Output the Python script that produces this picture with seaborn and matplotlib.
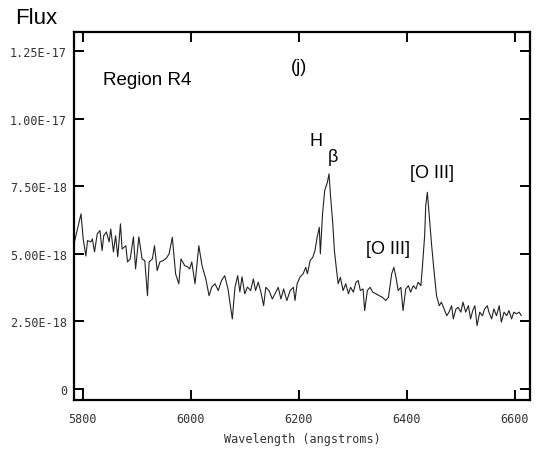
import numpy as np
import pandas as pd
import matplotlib
matplotlib.use("Agg")
import matplotlib.pyplot as plt
import seaborn as sns

# ---- data ----
wavelength = [5784, 5797, 5801, 5806, 5809, 5815, 5818, 5822, 5827, 5832, 5836, 5839,
              5844, 5849, 5852, 5857, 5861, 5865, 5870, 5873, 5880, 5883, 5888, 5894,
              5898, 5904, 5910, 5915, 5920, 5923, 5929, 5933, 5938, 5943, 5949, 5955,
              5960, 5966, 5972, 5978, 5982, 5989, 5994, 5998, 6002, 6008, 6015, 6021,
              6028, 6034, 6039, 6045, 6051, 6057, 6063, 6069, 6077, 6082, 6087, 6091,
              6095, 6100, 6105, 6111, 6116, 6120, 6125, 6130, 6135, 6139, 6145, 6151,
              6156, 6162, 6167, 6172, 6178, 6184, 6190, 6193, 6197, 6202, 6208, 6213,
              6216, 6221, 6226, 6230, 6234, 6238, 6240, 6244, 6248, 6253, 6256, 6259,
              6263, 6266, 6270, 6273, 6277, 6282, 6287, 6292, 6296, 6301, 6306, 6310,
              6314, 6319, 6322, 6327, 6332, 6337, 6343, 6349, 6355, 6361, 6366, 6372,
              6376, 6380, 6384, 6389, 6393, 6398, 6403, 6407, 6412, 6417, 6421, 6426,
              6429, 6433, 6435, 6438, 6441, 6446, 6450, 6455, 6460, 6464, 6469, 6474,
              6478, 6483, 6486, 6491, 6495, 6500, 6504, 6509, 6514, 6518, 6522, 6526,
              6530, 6535, 6540, 6544, 6549, 6552, 6557, 6561, 6566, 6571, 6575, 6580,
              6585, 6589, 6594, 6598, 6603, 6608, 6612]
flux_e18 = [5.37, 6.48, 5.55, 4.92, 5.49, 5.44, 5.55, 5.07, 5.74, 5.86, 5.12, 5.67,
            5.81, 5.44, 5.92, 5.07, 5.67, 4.89, 6.11, 5.18, 5.30, 4.70, 4.81, 5.63,
            4.44, 5.63, 4.81, 4.75, 3.45, 4.70, 4.81, 5.30, 4.38, 4.70, 4.75, 4.84,
            5.00, 5.61, 4.26, 3.89, 4.81, 4.56, 4.52, 4.44, 4.70, 3.89, 5.30, 4.56,
            4.07, 3.45, 3.77, 3.89, 3.64, 4.01, 4.19, 3.70, 2.59, 3.77, 4.19, 3.59,
            4.15, 3.52, 3.77, 3.64, 4.07, 3.64, 3.95, 3.58, 3.08, 3.76, 3.64, 3.33,
            3.52, 3.76, 3.33, 3.70, 3.27, 3.64, 3.76, 3.27, 3.89, 4.13, 4.26, 4.50,
            4.26, 4.75, 4.87, 5.12, 5.61, 5.98, 5.00, 6.48, 7.34, 7.65, 7.96, 7.09,
            6.11, 5.12, 4.38, 3.89, 4.13, 3.64, 3.89, 3.52, 3.76, 3.58, 3.95, 4.01,
            3.64, 3.70, 2.90, 3.64, 3.76, 3.58, 3.52, 3.45, 3.39, 3.27, 3.39, 4.26,
            4.50, 4.13, 3.64, 3.76, 2.90, 3.70, 3.82, 3.58, 3.82, 3.70, 3.95, 3.82,
            4.56, 5.67, 6.78, 7.28, 6.54, 5.30, 4.44, 3.45, 3.08, 3.21, 2.96, 2.71,
            2.84, 3.08, 2.59, 2.96, 3.02, 2.84, 3.21, 2.84, 3.08, 2.59, 2.90, 3.08,
            2.34, 2.84, 2.71, 2.96, 3.08, 2.84, 2.59, 2.96, 2.71, 3.08, 2.47, 2.84,
            2.71, 2.90, 2.59, 2.84, 2.78, 2.84, 2.71]

x_ticks = [5800, 6000, 6200, 6400, 6600]
x_tick_labels = ["5800", "6000", "6200", "6400", "6600"]
y_ticks = [0, 2.5e-18, 5.0e-18, 7.5e-18, 1.0e-17, 1.25e-17]
y_tick_labels = ["0", "2.50E-18", "5.00E-18", "7.50E-18", "1.00E-17", "1.25E-17"]

df = pd.DataFrame({"wavelength": wavelength,
                   "flux": np.array(flux_e18) * 1e-18})

sns.set_theme(style="white")
plt.rcParams["font.family"] = ["Liberation Sans", "DejaVu Sans"]

fig = plt.figure(figsize=(5.38, 4.52), dpi=100)
ax = fig.add_axes([74 / 538, 1 - 400.7 / 452, (530 - 74) / 538, (400.7 - 33.3) / 452])

sns.lineplot(data=df, x="wavelength", y="flux", ax=ax, color="#222222",
             linewidth=0.8, estimator=None, sort=False)

ax.set_xlim(5784, 6628)
ax.set_ylim(-0.40e-18, 13.2e-18)

for s in ax.spines.values():
    s.set_visible(True)
    s.set_color("black")
    s.set_linewidth(1.6)

mono = "DejaVu Sans Mono"
ax.set_xticks(x_ticks)
ax.set_xticklabels(x_tick_labels, fontfamily=mono, fontsize=8.5, color="#333333")
ax.set_yticks(y_ticks)
ax.set_yticklabels(y_tick_labels, fontfamily=mono, fontsize=8.5, color="#333333")
ax.tick_params(axis="both", which="major", direction="in", length=7.5, width=1.4,
               top=True, right=True, bottom=True, left=True, color="black")
ax.tick_params(axis="x", pad=9)
ax.tick_params(axis="y", pad=5)

ax.set_xlabel("Wavelength (angstroms)", fontfamily=mono, fontsize=8.5,
              color="#333333", labelpad=5)
ax.set_ylabel("")

fig.text(15 / 538, 1 - 18 / 452, "Flux", fontsize=16, va="center", ha="left",
         color="black")
ax.text(5920, 11.45e-18, "Region R4", fontsize=13.5, ha="center", va="center",
        color="black")
ax.text(6200, 11.95e-18, "(j)", fontsize=13, ha="center", va="center", color="black")
ax.text(6232, 9.21e-18, "H", fontsize=13, ha="center", va="center", color="black")
ax.text(6263, 8.60e-18, "β", fontsize=13, ha="center", va="center", color="black")
ax.text(6446, 8.0e-18, "[O III]", fontsize=13, ha="center", va="center", color="black")
ax.text(6365, 5.2e-18, "[O III]", fontsize=13, ha="center", va="center", color="black")

fig.savefig("out.png", dpi=100)
